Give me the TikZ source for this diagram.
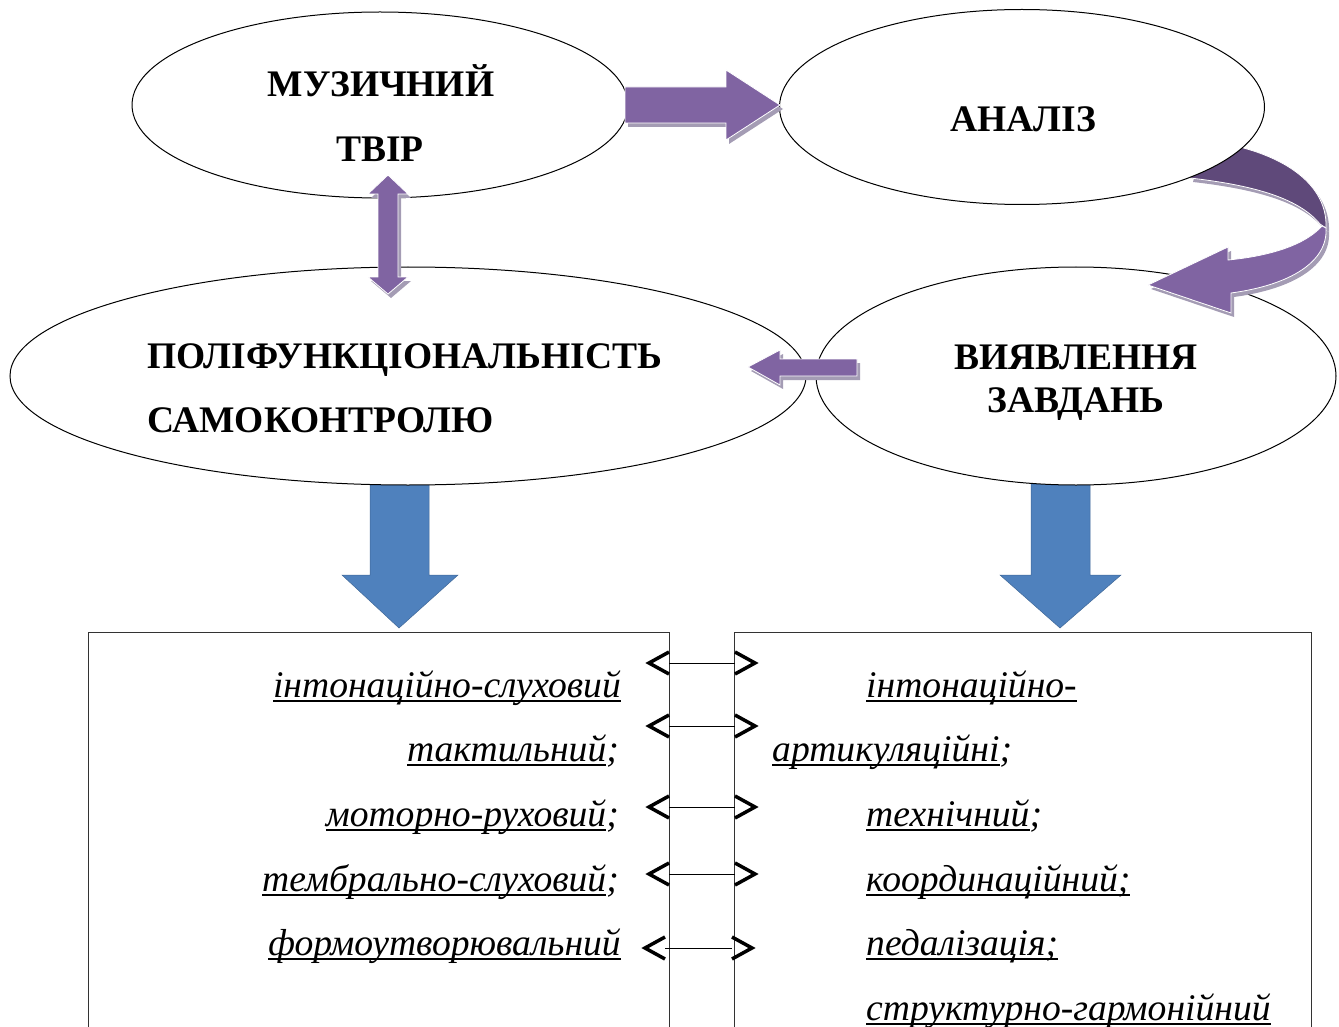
\documentclass[tikz,border=0pt]{standalone}
\usepackage{fontspec}
\setmainfont{Liberation Serif}
\newcommand\ulx[1]{\leavevmode\setbox0=\hbox{#1}\rlap{\rule[-4.5pt]{\wd0}{1.8pt}}\box0}
\usetikzlibrary{shapes.geometric}
\definecolor{arrP}{HTML}{8064A2}
\definecolor{arrD}{HTML}{5F497A}
\definecolor{shad}{HTML}{A49CB4}
\definecolor{arrB}{HTML}{4F81BD}
\begin{document}
\begin{tikzpicture}[x=1pt,y=-1pt,
  ell/.style={ellipse, draw=black, line width=1pt, fill=white, inner sep=0pt},
  boxr/.style={draw=black!80, line width=1pt, anchor=north west, inner sep=0pt},
  ptxt/.style={font=\fontsize{37.5}{42}\selectfont\bfseries, inner sep=0pt},
  itxt/.style={font=\fontsize{37.6}{42}\selectfont\itshape, inner sep=0pt},
  purp/.style={fill=arrP, draw=white, line width=0.8pt,
    preaction={fill=shad, draw=none, transform canvas={xshift=3pt,yshift=-4pt}}},
  purpd/.style={fill=arrD, draw=white, line width=0.8pt,
    preaction={fill=shad, draw=none, transform canvas={xshift=3pt,yshift=-4pt}}},
  blue/.style={fill=arrB, draw=arrB!80!black, line width=0.5pt},
  conn/.style={draw=black, line width=1pt},
  chev/.style={draw=black, line width=3.5pt, line join=miter}
]
\useasboundingbox (0,0) rectangle (1339,1027);
\clip (0,0) rectangle (1339,1027);

% boxes
\node[boxr, minimum width=581, minimum height=430] (bl) at (88,632) {};
\node[boxr, minimum width=577, minimum height=430] (br) at (734,632) {};

% blue arrows
\path[blue] (370,478) -- (429,478) -- (429,575) -- (458,575) -- (399,628) -- (342,575) -- (370,575) -- cycle;
\path[blue] (1031,478) -- (1090,478) -- (1090,575) -- (1121,575) -- (1060,628) -- (1000,575) -- (1031,575) -- cycle;

% lower ellipses
\node[ell, minimum width=796, minimum height=218] (e3) at (408,376) {};
\node[ell, minimum width=520, minimum height=218] (e4) at (1076,376) {};

% curved arrow
\path[purpd] (1200,140) .. controls (1275,148) and (1328,180) .. (1326,228) -- (1320,224) .. controls (1300,200) and (1260,186) .. (1190,178) -- cycle;
\path[purp] (1322,226) .. controls (1305,245) and (1270,256) .. (1228,260) -- (1228,247) -- (1148,285) -- (1231,313) -- (1231,293) .. controls (1290,285) and (1328,262) .. (1326,228) -- cycle;

% upper ellipses
\node[ell, minimum width=496, minimum height=186] (e1) at (380,105) {};
\node[ell, minimum width=485, minimum height=195] (e2) at (1022,107) {};

% purple arrows
\path[purp] (625,87) -- (726,87) -- (726,70) -- (780,105) -- (726,140) -- (726,123) -- (625,123) -- cycle;
\path[purp] (378,194) -- (368,194) -- (388,175) -- (408,194) -- (398,194) -- (398,277) -- (408,277) -- (388,294) -- (368,277) -- (378,277) -- cycle;
\path[purp] (857,359) -- (780,359) -- (780,350) -- (748,367) -- (780,385) -- (780,376) -- (857,376) -- cycle;

% ellipse texts
\node[ptxt, anchor=base] (t1a) at (381,97) {МУЗИЧНИЙ};
\node[ptxt, anchor=base] (t1b) at (380,162) {ТВІР};
\node[ptxt, anchor=base] (t2) at (1023,132) {АНАЛІЗ};
\node[ptxt, anchor=base west] (t3a) at (147,368) {ПОЛІФУНКЦІОНАЛЬНІСТЬ};
\node[ptxt, anchor=base west] (t3b) at (147,432) {САМОКОНТРОЛЮ};
\node[ptxt, anchor=base] (t4a) at (1076,369) {ВИЯВЛЕННЯ};
\node[ptxt, anchor=base] (t4b) at (1076,412) {ЗАВДАНЬ};

% left list
\node[itxt, anchor=base east] (l1) at (621,697) {\ulx{інтонаційно-слуховий}};
\node[itxt, anchor=base east] (l2) at (619,761) {\ulx{тактильний};};
\node[itxt, anchor=base east] (l3) at (619,826) {\ulx{моторно-руховий};};
\node[itxt, anchor=base east] (l4) at (619,891) {\ulx{тембрально-слуховий};};
\node[itxt, anchor=base east] (l5) at (621,955) {\ulx{формоутворювальний}};

% right list
\node[itxt, anchor=base west] (r1) at (866,697) {\ulx{інтонаційно-}};
\node[itxt, anchor=base west] (r2) at (772,761) {\ulx{артикуляційні};};
\node[itxt, anchor=base west] (r3) at (866,826) {\ulx{технічний};};
\node[itxt, anchor=base west] (r4) at (866,891) {\ulx{координаційний;}};
\node[itxt, anchor=base west] (r5) at (866,955) {\ulx{педалізація;}};
\node[itxt, anchor=base west] (r6) at (866,1020) {\ulx{структурно-гармонійний}};

% connectors between boxes
\foreach \i/\y/\lx/\rx in {1/663/669/735, 2/726/669/735, 3/807/669/735, 4/874/669/735, 5/948/665/732} {
  \coordinate (ca\i) at (\lx,\y);
  \coordinate (cb\i) at (\rx,\y);
  \draw[conn] (ca\i) -- (cb\i);
  \draw[chev] ([shift={(0,-11)}]ca\i) -- ++(-20,11) -- ++(20,11);
  \draw[chev] ([shift={(0,-11)}]cb\i) -- ++(20,11) -- ++(-20,11);
}
\end{tikzpicture}
\end{document}
